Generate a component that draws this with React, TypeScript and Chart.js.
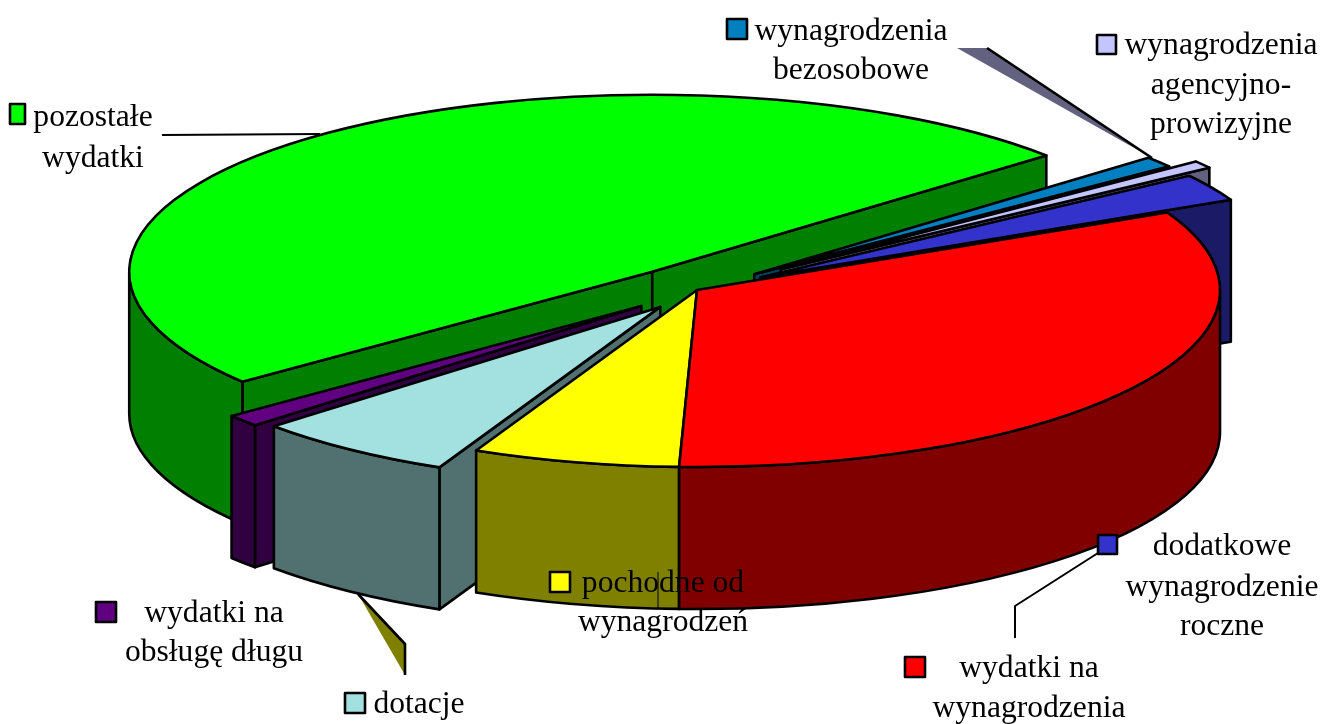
import React, { useEffect, useRef } from "react";
import { Chart, registerables } from "chart.js";

Chart.register(...registerables);

// ---- data (shares of spending, %, in drawing order of the pie) ----
const categories = [
  "wydatki na wynagrodzenia",
  "pochodne od wynagrodzeń",
  "dotacje",
  "wydatki na obsługę długu",
  "pozostałe wydatki",
  "wynagrodzenia bezosobowe",
  "wynagrodzenia agencyjno-prowizyjne",
  "dodatkowe wynagrodzenie roczne",
];
const shares = [32.8, 6.4, 6.3, 1.1, 49.3, 1.0, 0.7, 2.5];

// ---- styles ----
const explode = [0, 0, 62, 73, 70, 74, 104, 74];
const topColors = ["#FF0000", "#FFFF00", "#A3E1E1", "#600080", "#00FF00", "#0080C0", "#C4C4FF", "#3333CC"];
const wallColors = ["#800000", "#808000", "#517070", "#300040", "#007F00", "#004060", "#626280", "#1A1A66"];
const paintOrder = [4, 5, 6, 7, 3, 2, 1, 0];

const W = 1323;
const H = 724;
const CX = 697;
const CY = 290;
const RADIUS = 523;
const SQUASH = 177 / 523;
const DEPTH = 142;
const EDGE = 2.6;
const FONT = '31.6px "Liberation Serif"';

type LabelBox = { i: number; swatch: [number, number, number, number]; cx: number; lines: string[]; base: number[] };
const labelBoxes: LabelBox[] = [
  { i: 5, swatch: [727, 19, 20, 20], cx: 851, lines: ["wynagrodzenia", "bezosobowe"], base: [40, 79] },
  { i: 6, swatch: [1097, 35, 19, 19], cx: 1221, lines: ["wynagrodzenia", "agencyjno-", "prowizyjne"], base: [54, 94, 133] },
  { i: 4, swatch: [10, 104, 15, 20], cx: 93, lines: ["pozostałe", "wydatki"], base: [126, 167] },
  { i: 3, swatch: [96, 602, 20, 20], cx: 214, lines: ["wydatki na", "obsługę długu"], base: [622, 661] },
  { i: 2, swatch: [345, 693, 20, 20], cx: 419, lines: ["dotacje"], base: [713] },
  { i: 1, swatch: [550, 572, 20, 20], cx: 663, lines: ["pochodne od", "wynagrodzeń"], base: [592, 631] },
  { i: 7, swatch: [1098, 535, 19, 19], cx: 1222, lines: ["dodatkowe", "wynagrodzenie", "roczne"], base: [555, 596, 635] },
  { i: 0, swatch: [905, 657, 20, 20], cx: 1029, lines: ["wydatki na", "wynagrodzenia"], base: [677, 717] },
];

const pie3d = {
  id: "pie3d",
  beforeDatasetsDraw(chart: any) {
    const ctx: CanvasRenderingContext2D = chart.ctx;
    const arcs = chart.getDatasetMeta(0).data;

    ctx.save();
    ctx.lineWidth = EDGE;
    ctx.lineJoin = "round";
    ctx.strokeStyle = "#000";

    // leader shapes behind the pie
    ctx.fillStyle = wallColors[6];
    ctx.beginPath();
    ctx.moveTo(957, 48);
    ctx.lineTo(987, 48);
    ctx.lineTo(1152, 158);
    ctx.closePath();
    ctx.fill();
    ctx.beginPath();
    ctx.moveTo(987, 48);
    ctx.lineTo(1152, 158);
    ctx.stroke();

    ctx.lineWidth = 2;
    ctx.beginPath();
    ctx.moveTo(162, 135);
    ctx.lineTo(320, 134);
    ctx.stroke();
    ctx.lineWidth = EDGE;

    for (const i of paintOrder) {
      const arc = arcs[i];
      const { x, y, startAngle, endAngle, outerRadius } = arc.getProps(
        ["x", "y", "startAngle", "endAngle", "outerRadius"],
        true
      );
      const off = arc.options.offset || 0;
      const mid = (startAngle + endAngle) / 2;
      const ax = x + Math.cos(mid) * off;
      const ay = y + Math.sin(mid) * off * SQUASH;
      const rx = outerRadius;
      const ry = outerRadius * SQUASH;
      const edge = (t: number): [number, number] => [ax + Math.cos(t) * rx, ay + Math.sin(t) * ry];

      const radial = (t: number) => {
        const [ex, ey] = edge(t);
        ctx.beginPath();
        ctx.moveTo(ax, ay);
        ctx.lineTo(ex, ey);
        ctx.lineTo(ex, ey + DEPTH);
        ctx.lineTo(ax, ay + DEPTH);
        ctx.closePath();
        ctx.fillStyle = wallColors[i];
        ctx.fill();
        ctx.stroke();
      };
      if (Math.cos(startAngle) < 0) radial(startAngle);
      if (Math.cos(endAngle) > 0) radial(endAngle);

      for (let k = -1; k <= 1; k++) {
        const lo = Math.max(startAngle, 2 * Math.PI * k);
        const hi = Math.min(endAngle, 2 * Math.PI * k + Math.PI);
        if (lo < hi) {
          ctx.beginPath();
          ctx.ellipse(ax, ay, rx, ry, 0, lo, hi);
          ctx.ellipse(ax, ay + DEPTH, rx, ry, 0, hi, lo, true);
          ctx.closePath();
          ctx.fillStyle = wallColors[i];
          ctx.fill();
          ctx.stroke();
        }
      }

      ctx.beginPath();
      ctx.moveTo(ax, ay);
      ctx.ellipse(ax, ay, rx, ry, 0, startAngle, endAngle);
      ctx.closePath();
      ctx.fillStyle = topColors[i];
      ctx.fill();
      ctx.stroke();
    }

    // remaining leaders
    ctx.fillStyle = wallColors[1];
    ctx.beginPath();
    ctx.moveTo(358, 594);
    ctx.lineTo(405, 644);
    ctx.lineTo(405, 675);
    ctx.closePath();
    ctx.fill();
    ctx.beginPath();
    ctx.moveTo(358, 594);
    ctx.lineTo(405, 644);
    ctx.lineTo(405, 675);
    ctx.stroke();

    ctx.lineWidth = 2;
    ctx.beginPath();
    ctx.moveTo(1098, 553);
    ctx.lineTo(1015, 606);
    ctx.lineTo(1015, 638);
    ctx.stroke();

    ctx.lineWidth = 1;
    ctx.beginPath();
    ctx.moveTo(658, 572);
    ctx.lineTo(658, 608);
    ctx.stroke();
    ctx.lineWidth = 2.6;

    // category labels
    ctx.font = FONT;
    ctx.textAlign = "center";
    ctx.textBaseline = "alphabetic";
    for (const b of labelBoxes) {
      const [sx, sy, sw, sh] = b.swatch;
      ctx.fillStyle = topColors[b.i];
      ctx.fillRect(sx, sy, sw, sh);
      ctx.strokeRect(sx, sy, sw, sh);
      ctx.fillStyle = "#000";
      b.lines.forEach((line, n) => ctx.fillText(line, b.cx, b.base[n]));
    }
    ctx.restore();
    return false;
  },
};

export default function App() {
  const ref = useRef<HTMLCanvasElement>(null);
  useEffect(() => {
    const chart = new Chart(ref.current as HTMLCanvasElement, {
      type: "pie",
      data: {
        labels: categories,
        datasets: [
          {
            data: shares,
            backgroundColor: topColors,
            borderColor: "#000",
            borderWidth: 2,
            offset: explode,
          },
        ],
      },
      options: {
        animation: false,
        responsive: false,
        rotation: 64,
        radius: RADIUS,
        layout: { padding: { left: 2 * CX - W, right: 0, top: 0, bottom: H - 2 * CY } },
        plugins: { legend: { display: false }, tooltip: { enabled: false } },
      },
      plugins: [pie3d],
    } as any);
    return () => chart.destroy();
  }, []);
  return (
    <canvas
      ref={ref}
      width={W}
      height={H}
      style={{ position: "fixed", left: 0, top: 0, width: W, height: H, display: "block", background: "#fff" }}
    />
  );
}
